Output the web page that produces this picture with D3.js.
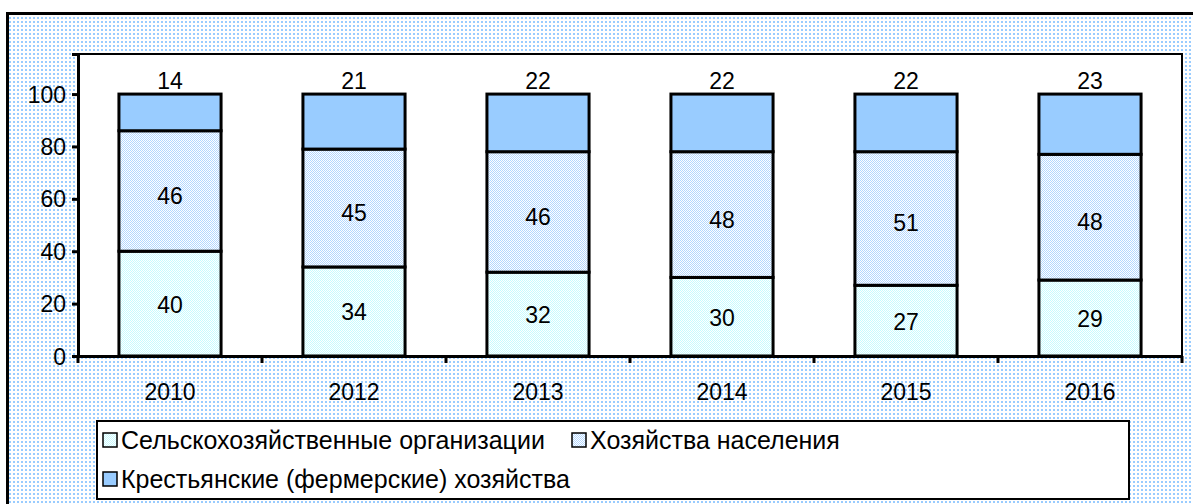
<!DOCTYPE html>
<html>
<head>
<meta charset="utf-8">
<script src="https://cdn.jsdelivr.net/npm/d3@7"></script>
<style>
  body { margin: 0; background: #fff; }
  text { font-family: "Liberation Sans", Arial, sans-serif; fill: #000; }
</style>
</head>
<body>
<div id="chart"></div>
<script>
const years = ["2010", "2012", "2013", "2014", "2015", "2016"];
const agroOrgs = [40, 34, 32, 30, 27, 29];
const households = [46, 45, 46, 48, 51, 48];
const farms = [14, 21, 22, 22, 22, 23];
const seriesNames = ["Сельскохозяйственные организации", "Хозяйства населения", "Крестьянские (фермерские) хозяйства"];
const yTicks = [0, 20, 40, 60, 80, 100];

const WIDTH = 1193, HEIGHT = 504;
const PLOT = { left: 78, right: 1182, top: 54, bottom: 356 };
const FONT = 23;

const svg = d3.select("#chart")
    .append("svg")
    .attr("width", WIDTH)
    .attr("height", HEIGHT);

const defs = svg.append("defs");

// dotted background of the chart area
const bgPat = defs.append("pattern")
    .attr("id", "bgDots")
    .attr("patternUnits", "userSpaceOnUse")
    .attr("width", 4).attr("height", 4);
bgPat.append("rect").attr("width", 4).attr("height", 4).attr("fill", "#ffffff");
bgPat.append("rect").attr("x", 1).attr("y", 1).attr("width", 2).attr("height", 2).attr("fill", "#99ccff");

// fine checker patterns for the two lower series
function checker(id, color) {
    const p = defs.append("pattern")
        .attr("id", id)
        .attr("patternUnits", "userSpaceOnUse")
        .attr("width", 2).attr("height", 2);
    p.append("rect").attr("width", 2).attr("height", 2).attr("fill", "#ffffff");
    p.append("rect").attr("width", 1).attr("height", 1).attr("fill", color);
    p.append("rect").attr("x", 1).attr("y", 1).attr("width", 1).attr("height", 1).attr("fill", color);
}
checker("orgFill", "#c6fbff");
checker("homeFill", "#b3d7ff");

const fills = ["url(#orgFill)", "url(#homeFill)", "#99ccff"];

// outer frame
svg.append("rect")
    .attr("x", 7.5).attr("y", 13.5)
    .attr("width", WIDTH).attr("height", HEIGHT)
    .attr("fill", "url(#bgDots)")
    .attr("stroke", "#000")
    .attr("stroke-width", 3);

// plot area
svg.append("rect")
    .attr("x", PLOT.left).attr("y", PLOT.top)
    .attr("width", PLOT.right - PLOT.left).attr("height", PLOT.bottom - PLOT.top)
    .attr("fill", "#fff")
    .attr("stroke", "#000")
    .attr("stroke-width", 2);

const x = d3.scaleBand()
    .domain(years)
    .range([PLOT.left, PLOT.right])
    .paddingInner(0.445)
    .paddingOuter(0.2225);

const y = d3.scaleLinear()
    .domain([0, 115.3])
    .range([PLOT.bottom, PLOT.top]);

const table = years.map((yr, i) => ({ year: yr, org: agroOrgs[i], home: households[i], farm: farms[i] }));
const stacked = d3.stack().keys(["org", "home", "farm"])(table);

const layers = svg.selectAll("g.layer")
    .data(stacked)
    .enter()
    .append("g")
    .attr("class", "layer")
    .attr("fill", (d, i) => fills[i]);

layers.selectAll("rect")
    .data(d => d)
    .enter()
    .append("rect")
    .attr("x", d => x(d.data.year))
    .attr("y", d => y(d[1]))
    .attr("width", x.bandwidth())
    .attr("height", d => y(d[0]) - y(d[1]))
    .attr("stroke", "#000")
    .attr("stroke-width", 3);

// value labels: first two inside, top series above the bar
stacked.forEach((layer, li) => {
    svg.append("g")
        .selectAll("text")
        .data(layer)
        .enter()
        .append("text")
        .attr("x", d => x(d.data.year) + x.bandwidth() / 2)
        .attr("y", d => li < 2 ? (y(d[0]) + y(d[1])) / 2 + 8 + (li === 1 ? 5 : 1) : y(d[1]) - 5)
        .attr("text-anchor", "middle")
        .attr("font-size", FONT)
        .text(d => d.data[layer.key]);
});

// y axis
const yAxis = svg.append("g")
    .attr("transform", `translate(${PLOT.left},0)`)
    .call(d3.axisLeft(y).tickValues(yTicks).tickSize(6).tickPadding(6));
yAxis.select(".domain").attr("stroke-width", 3);
yAxis.selectAll(".tick line").attr("stroke-width", 3);
yAxis.selectAll(".tick text").attr("font-size", FONT).attr("font-family", "Liberation Sans, Arial, sans-serif").attr("dy", "0.35em");

// x axis: ticks sit between categories
const xAxis = svg.append("g")
    .attr("transform", `translate(0,${PLOT.bottom})`)
    .call(d3.axisBottom(x).tickSize(0).tickPadding(28));
xAxis.select(".domain").attr("stroke-width", 3);
xAxis.selectAll(".tick text").attr("font-size", FONT).attr("font-family", "Liberation Sans, Arial, sans-serif");
const step = x.step();
xAxis.selectAll("line.sep")
    .data(d3.range(years.length + 1))
    .enter()
    .append("line")
    .attr("class", "sep")
    .attr("x1", i => PLOT.left + i * step)
    .attr("x2", i => PLOT.left + i * step)
    .attr("y1", 0).attr("y2", 7)
    .attr("stroke", "#000")
    .attr("stroke-width", 3);

// legend
const legend = svg.append("g");
legend.append("rect")
    .attr("x", 97).attr("y", 421)
    .attr("width", 1032).attr("height", 78)
    .attr("fill", "#fff")
    .attr("stroke", "#000")
    .attr("stroke-width", 2);

const legendPos = [[103, 440], [572, 440], [103, 479]];
seriesNames.forEach((name, i) => {
    const [lx, ly] = legendPos[i];
    legend.append("rect")
        .attr("x", lx).attr("y", ly - 7)
        .attr("width", 14).attr("height", 14)
        .attr("fill", fills[i])
        .attr("stroke", "#000")
        .attr("stroke-width", 1.5);
    legend.append("text")
        .attr("x", lx + 18).attr("y", ly + 9)
        .attr("font-size", 25)
        .text(name);
});
</script>
</body>
</html>
